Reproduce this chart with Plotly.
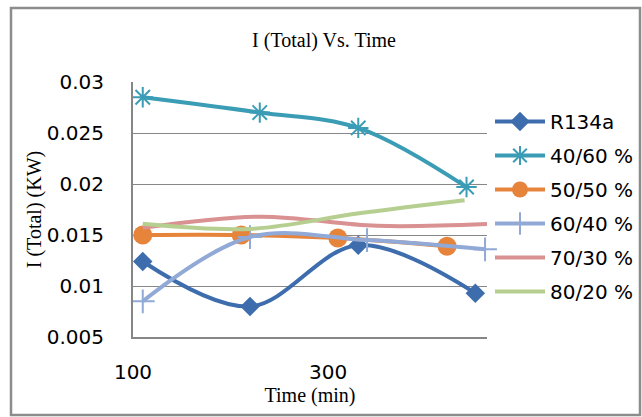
import plotly.graph_objects as go

# ---------------- data ----------------
series_names = ["R134a", "40/60 %", "50/50 %", "60/40 %", "70/30 %", "80/20 %"]

r134a_time = [110, 220, 331, 451]
r134a_val = [0.0124, 0.0080, 0.0140, 0.0093]

s4060_time = [110, 230, 331, 442]
s4060_val = [0.0285, 0.0270, 0.0255, 0.0197]

s5050_time = [110, 211, 310, 422]
s5050_val = [0.0150, 0.0150, 0.0147, 0.0139]

s6040_time = [110, 220, 340, 461]
s6040_val = [0.0085, 0.0148, 0.0145, 0.0136]

s7030_time = [110, 230, 350, 470]
s7030_val = [0.0157, 0.0168, 0.0159, 0.0161]

s8020_time = [110, 220, 330, 440]
s8020_val = [0.0161, 0.0156, 0.0171, 0.0184]

x_tickvals = [100, 300]
x_ticktext = ["100", "300"]
y_tickvals = [0.005, 0.01, 0.015, 0.02, 0.025, 0.03]
y_ticktext = ["0.005", "0.01", "0.015", "0.02", "0.025", "0.03"]

# ---------------- styles ----------------
colors = ["#3E6DAD", "#3A9DB5", "#E7843C", "#91A9D6", "#D99191", "#B6CF90"]
W, H = 642, 417
L, R, T, B = 133, 155, 82, 80
pw, ph = W - L - R, H - T - B
SANS = "DejaVu Sans"
SERIF = "Liberation Serif"

fig = go.Figure()

data = [
    (r134a_time, r134a_val, dict(symbol="diamond", size=15, color=colors[0])),
    (s4060_time, s4060_val, dict(symbol="asterisk-open", size=17, color=colors[1],
                                 line=dict(width=2, color=colors[1]))),
    (s5050_time, s5050_val, dict(symbol="circle", size=19, color=colors[2])),
    (s6040_time, s6040_val, dict(symbol="cross-thin-open", size=17, color=colors[3],
                                 line=dict(width=2, color=colors[3]))),
    (s7030_time, s7030_val, None),
    (s8020_time, s8020_val, None),
]

for i, (xs, ys, mk) in enumerate(data):
    kw = dict(
        x=xs, y=ys, name=series_names[i],
        line=dict(color=colors[i], width=4, shape="spline"),
        legendgroup=f"g{i}",
        cliponaxis=False,
    )
    if mk is None:
        kw["mode"] = "lines"
    else:
        kw["mode"] = "lines+markers"
        kw["marker"] = mk
    fig.add_trace(go.Scatter(**kw))


def px_to_paper_x(px):
    return (px - L) / pw


def px_to_paper_y(py):
    return (H - B - py) / ph


# outer chart border
fig.add_shape(type="rect", xref="paper", yref="paper",
              x0=px_to_paper_x(11), x1=px_to_paper_x(640),
              y0=px_to_paper_y(415), y1=px_to_paper_y(8),
              line=dict(color="#8C8C8C", width=2.5), layer="below")

fig.update_layout(
    width=W, height=H,
    margin=dict(l=L, r=R, t=T, b=B, autoexpand=False),
    paper_bgcolor="white", plot_bgcolor="white",
    title=dict(text="I (Total) Vs. Time", x=px_to_paper_x(324), xref="paper",
               xanchor="center", y=1 - 40 / H, yanchor="middle",
               font=dict(family=SERIF, size=20, color="black")),
    showlegend=True,
    legend=dict(x=px_to_paper_x(490), y=px_to_paper_y(102), xanchor="left", yanchor="top",
                font=dict(family=SANS, size=20, color="black"),
                tracegroupgap=5, bgcolor="rgba(0,0,0,0)", itemwidth=50),
    font=dict(family=SANS, color="black"),
)

fig.update_xaxes(
    range=[100, 463], tickvals=x_tickvals, ticktext=x_ticktext,
    showgrid=False, zeroline=False, showline=True, linecolor="#868686", linewidth=2,
    ticks="", ticklabelstandoff=16,
    tickfont=dict(family=SANS, size=20, color="black"),
    title=dict(text="Time (min)", standoff=0,
               font=dict(family=SERIF, size=20, color="black")),
)
fig.update_yaxes(
    range=[0.005, 0.03], tickvals=y_tickvals, ticktext=y_ticktext,
    showgrid=True, gridcolor="#878787", gridwidth=1,
    zeroline=False, showline=True, linecolor="#868686", linewidth=2,
    ticks="", ticklabelstandoff=23,
    tickfont=dict(family=SANS, size=20, color="black"),
    title=dict(text="I (Total) (KW)", standoff=0,
               font=dict(family=SERIF, size=20, color="black")),
)

fig.write_html("out.html")
